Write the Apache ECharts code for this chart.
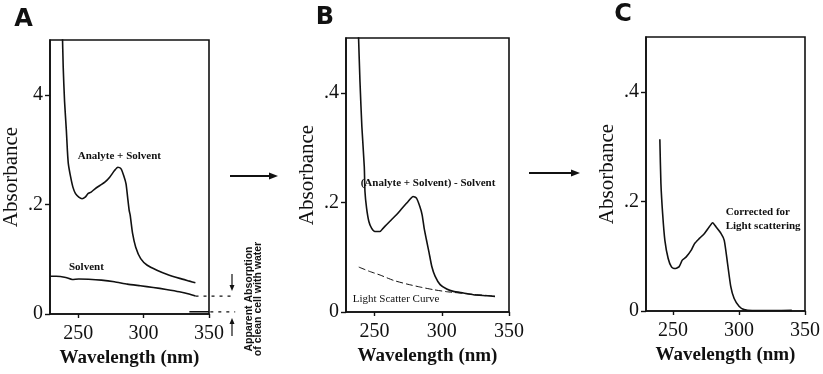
<!DOCTYPE html>
<html>
<head>
<meta charset="utf-8">
<script src="https://cdn.jsdelivr.net/npm/echarts@6/dist/echarts.min.js"></script>
<style>
html,body{margin:0;padding:0;background:#fff;}
#chart{width:823px;height:374px;}
</style>
</head>
<body>
<div id="chart"></div>
<script>
// ---------- DATA ----------
const xTicks = [250, 300, 350];
const yTicks = [0, 0.2, 0.4];
const yLabelsA = ['0', '.2', '4'];
const yLabelsBC = ['0', '.2', '.4'];

// Panel A: Analyte + Solvent
const aAnalyteNm  = [237.9, 238.6, 239.6, 241.0, 241.8, 242.5, 244.3, 246.0, 248.0, 250.5, 253.0, 255.4, 257.5, 259.9, 262.9, 266.6, 270.4, 274.1, 277.8, 280.4, 282.8, 284.8, 286.6, 287.8, 289.0, 289.8, 291.6, 294.0, 297.8, 302.8, 310.2, 317.7, 327.6, 335.1, 339.6];
const aAnalyteAbs = [0.52, 0.45, 0.389, 0.335, 0.298, 0.2745, 0.2496, 0.2315, 0.2195, 0.2133, 0.2104, 0.2133, 0.2195, 0.2224, 0.2285, 0.2345, 0.2405, 0.2496, 0.2618, 0.2678, 0.2649, 0.2527, 0.2376, 0.2133, 0.189, 0.18, 0.147, 0.122, 0.101, 0.089, 0.080, 0.0727, 0.065, 0.060, 0.057];
// Panel A: Solvent
const aSolventNm  = [228.5, 233.2, 240.6, 245.5, 250.5, 258.0, 267.8, 277.7, 287.6, 297.5, 307.4, 317.3, 327.3, 334.7, 339.7];
const aSolventAbs = [0.069, 0.069, 0.0667, 0.063, 0.064, 0.0635, 0.0618, 0.0588, 0.0545, 0.0515, 0.0485, 0.0448, 0.0406, 0.0364, 0.0327];
// Panel A: apparent absorption of clean cell with water (guide levels)
const aSolventGuideNm  = [339.7, 370];
const aSolventGuideAbs = [0.0327, 0.0327];
const aWaterNm  = [335, 350];
const aWaterAbs = [0.004, 0.004];
const aWaterGuideNm  = [351, 370];
const aWaterGuideAbs = [0.004, 0.004];

// Panel B: (Analyte + Solvent) - Solvent
const bDiffNm  = [237.9, 239.2, 240.6, 242.4, 242.9, 244.1, 245.8, 247.8, 250.3, 254.0, 256.5, 258.9, 262.6, 266.3, 270.0, 275.0, 278.7, 281.2, 283.7, 285.4, 286.9, 288.6, 290.6, 292.6, 295.1, 298.8, 303.7, 308.6, 316.1, 323.5, 333.4, 339.6];
const bDiffAbs = [0.52, 0.42, 0.338, 0.265, 0.2199, 0.1896, 0.1652, 0.1531, 0.1469, 0.1469, 0.1531, 0.1592, 0.1683, 0.1774, 0.1878, 0.2016, 0.2108, 0.2078, 0.1925, 0.1774, 0.1531, 0.1318, 0.108, 0.083, 0.065, 0.050, 0.042, 0.0376, 0.0346, 0.0315, 0.0297, 0.0285];
// Panel B: Light scatter curve
const bScatterNm  = [238.3, 246.4, 254.2, 264.1, 274.1, 284.0, 293.9, 303.7, 313.6, 323.5, 333.4, 339.6];
const bScatterAbs = [0.082, 0.074, 0.0674, 0.0577, 0.051, 0.0455, 0.0407, 0.037, 0.0346, 0.032, 0.0303, 0.0285];

// Panel C: Corrected for light scattering
const cCorrNm  = [240.0, 240.8, 242.1, 243.8, 246.3, 248.8, 251.3, 254.5, 257.0, 260.0, 263.8, 266.3, 270.0, 273.8, 277.5, 280.0, 282.5, 286.3, 288.8, 291.3, 293.8, 296.3, 300.0, 303.8, 310.0, 325.0, 340.0];
const cCorrAbs = [0.3136, 0.233, 0.178, 0.129, 0.0958, 0.0805, 0.0775, 0.0805, 0.0928, 0.0988, 0.111, 0.123, 0.1325, 0.1416, 0.1537, 0.161, 0.1537, 0.1416, 0.129, 0.0867, 0.0439, 0.0227, 0.0086, 0.0025, 0.0006, 0.0008, 0.0012];

// ---------- CHART ----------
const zip = (xs, ys) => xs.map((x, i) => [x, ys[i]]);
const chart = echarts.init(document.getElementById('chart'), null, {renderer: 'canvas'});

const serif = 'Liberation Serif, Times New Roman, serif';
const INK = '#111';

const grids = [
  {left: 47, top: 40, width: 162, height: 274},
  {left: 346, top: 38, width: 163, height: 274},
  {left: 646, top: 37, width: 165, height: 274}
].map(g => Object.assign({show: true, borderColor: INK, borderWidth: 1.6, backgroundColor: 'transparent', containLabel: false}, g));

const xMins = [228.5, 228.8, 229.5];

const xAxes = [0, 1, 2].map(i => ({
  type: 'value', gridIndex: i, min: xMins[i], max: 350,
  name: 'Wavelength (nm)', nameLocation: 'middle', nameGap: 27,
  nameTextStyle: {fontFamily: serif, fontSize: 19, fontWeight: 'bold', color: INK},
  axisLine: {show: true, lineStyle: {color: INK, width: 1.6}},
  axisTick: {show: true, inside: false, length: 4, customValues: xTicks, lineStyle: {color: INK, width: 1.4}},
  axisLabel: {customValues: xTicks, margin: 10, fontFamily: serif, fontSize: 20, color: INK},
  splitLine: {show: false}
}));

const yAxes = [0, 1, 2].map(i => ({
  type: 'value', gridIndex: i, min: 0, max: 0.5,
  name: 'Absorbance', nameLocation: 'middle', nameGap: 28, nameRotate: 90,
  nameTextStyle: {fontFamily: serif, fontSize: 21, color: INK},
  axisLine: {show: true, lineStyle: {color: INK, width: 1.6}},
  axisTick: {show: true, inside: false, length: 5, customValues: yTicks, lineStyle: {color: INK, width: 1.4}},
  axisLabel: {
    customValues: yTicks, margin: 7, fontFamily: serif, fontSize: 20, color: INK,
    formatter: v => {
      const labels = i === 0 ? yLabelsA : yLabelsBC;
      const k = yTicks.findIndex(t => Math.abs(t - v) < 1e-9);
      return k >= 0 ? labels[k] : '';
    }
  },
  splitLine: {show: false}
}));

const lineSeries = (idx, data, style) => ({
  type: 'line', xAxisIndex: idx, yAxisIndex: idx, data: data,
  showSymbol: false, symbol: 'none', smooth: 0.2, clip: true, silent: true,
  lineStyle: Object.assign({color: INK, width: 1.6}, style)
});

const series = [
  lineSeries(0, zip(aAnalyteNm, aAnalyteAbs), {}),
  lineSeries(0, zip(aSolventNm, aSolventAbs), {}),
  lineSeries(0, zip(aWaterNm, aWaterAbs), {width: 1.4}),
  lineSeries(1, zip(bDiffNm, bDiffAbs), {}),
  lineSeries(1, zip(bScatterNm, bScatterAbs), {width: 1, type: [7, 3]}),
  lineSeries(2, zip(cCorrNm, cCorrAbs), {})
];

const txt = (x, y, text, extra) => ({
  type: 'text', x: x, y: y, silent: true,
  style: Object.assign({text: text, fill: INK, font: 'bold 11px ' + serif, align: 'left', verticalAlign: 'middle'}, extra || {})
});

const hArrow = (x1, x2, y) => ({
  type: 'group', silent: true, children: [
    {type: 'line', shape: {x1: x1, y1: y, x2: x2 - 7, y2: y}, style: {stroke: INK, lineWidth: 1.8}},
    {type: 'polygon', shape: {points: [[x2, y], [x2 - 9, y - 3.5], [x2 - 9, y + 3.5]]}, style: {fill: INK}}
  ]
});
const vArrow = (x, yTail, yHead) => {
  const d = yHead > yTail ? 1 : -1;
  return {
    type: 'group', silent: true, children: [
      {type: 'line', shape: {x1: x, y1: yTail, x2: x, y2: yHead - d * 4}, style: {stroke: INK, lineWidth: 1.2}},
      {type: 'polygon', shape: {points: [[x, yHead], [x - 2.5, yHead - d * 6], [x + 2.5, yHead - d * 6]]}, style: {fill: INK}}
    ]
  };
};

const graphic = [
  txt(23.5, 20, 'A', {font: 'bold 24px DejaVu Sans, sans-serif', align: 'center'}),
  txt(325, 18, 'B', {font: 'bold 24px DejaVu Sans, sans-serif', align: 'center'}),
  txt(623, 15, 'C', {font: 'bold 24px DejaVu Sans, sans-serif', align: 'center'}),
  txt(77.7, 156, 'Analyte + Solvent'),
  txt(69, 267, 'Solvent'),
  txt(360.7, 183, '(Analyte + Solvent) - Solvent'),
  txt(352.7, 299.5, 'Light Scatter Curve', {font: '11px ' + serif}),
  txt(725.7, 212, 'Corrected for'),
  txt(725.7, 226, 'Light scattering'),
  hArrow(230, 278, 176),
  hArrow(529, 580, 173),
  vArrow(232, 274, 291),
  vArrow(232, 336, 318),
  {
    type: 'text', x: 254, y: 299, rotation: Math.PI / 2, silent: true,
    style: {text: 'Apparent Absorption\nof clean cell with water', fill: INK,
      font: 'bold 10.5px Liberation Sans, Arial, sans-serif', lineHeight: 9, align: 'center', verticalAlign: 'middle'}
  }
];

chart.setOption({
  animation: false,
  backgroundColor: '#fff',
  grid: grids,
  xAxis: xAxes,
  yAxis: yAxes,
  series: series,
  graphic: graphic
});

// Dotted guide lines that run past the plot frame, placed through the axes' own scales
const guide = (nms, abss) => {
  const p1 = chart.convertToPixel({gridIndex: 0}, [nms[0], abss[0]]);
  const p2 = chart.convertToPixel({gridIndex: 0}, [nms[1], abss[1]]);
  return {type: 'line', silent: true, shape: {x1: p1[0], y1: p1[1], x2: p2[0], y2: p2[1]},
    style: {stroke: INK, lineWidth: 1.2, lineDash: [3, 5]}};
};
chart.setOption({
  graphic: graphic.concat([
    guide(aSolventGuideNm, aSolventGuideAbs),
    guide(aWaterGuideNm, aWaterGuideAbs)
  ])
});
</script>
</body>
</html>
